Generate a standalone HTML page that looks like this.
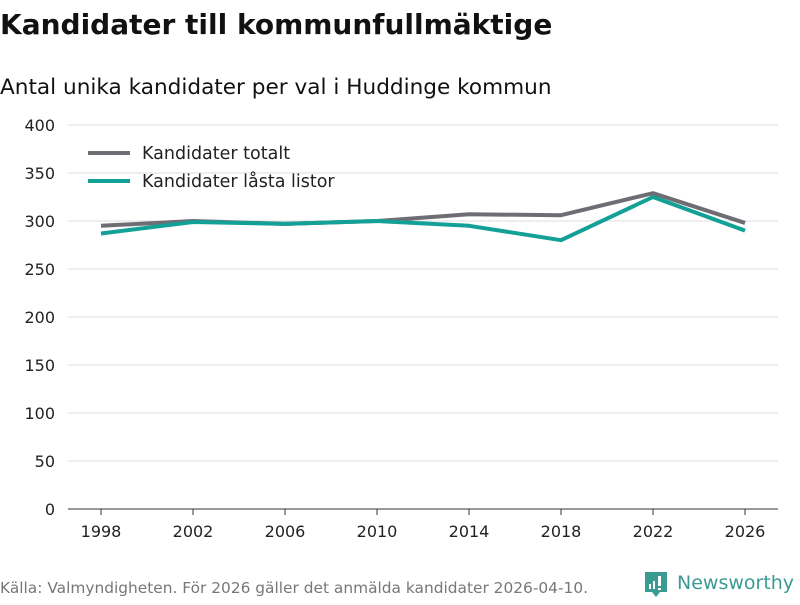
<!DOCTYPE html>
<html><head><meta charset="utf-8"><style>
body{margin:0;background:#fff;font-family:"Liberation Sans","DejaVu Sans",sans-serif;}
svg text{font-family:"DejaVu Sans","Liberation Sans",sans-serif;}
</style></head><body>
<svg width="800" height="600" xmlns="http://www.w3.org/2000/svg">
<text x="0" y="34" font-size="28" font-weight="bold" fill="#111">Kandidater till kommunfullmäktige</text>
<text x="0" y="94" font-size="21.6" fill="#111">Antal unika kandidater per val i Huddinge kommun</text>
<g id="grid"></g><g id="xaxis"></g><g id="lines"></g>
<g>
<line x1="88" y1="153" x2="130" y2="153" stroke="#6e6d73" stroke-width="4"/>
<text x="142" y="159" font-size="17.5" fill="#222">Kandidater totalt</text>
<line x1="88" y1="181" x2="130" y2="181" stroke="#13a097" stroke-width="4"/>
<text x="142" y="187" font-size="17.5" fill="#222">Kandidater låsta listor</text>
</g>
<text x="0" y="593" font-size="15.4" fill="#777">Källa: Valmyndigheten. För 2026 gäller det anmälda kandidater 2026-04-10.</text>
<g>
<path d="M645 572h22v20h-7l-4 5-4-5h-7z" fill="#3a9b92"/>
<rect x="649" y="584" width="2" height="5" fill="#fff"/><rect x="653" y="581" width="2" height="8" fill="#fff"/><rect x="658" y="576" width="3" height="10" fill="#fff"/><rect x="658" y="588" width="3" height="2" fill="#fff"/>
<text x="677" y="589" font-size="19" fill="#3a9b92">Newsworthy</text>
</g>
</svg>
<script>
const years=[1998,2002,2006,2010,2014,2018,2022,2026];
const totalt=[295,300,297,300,307,306,329,298];
const lasta=[287,299,297,300,295,280,325,290];
const yTicks=[0,50,100,150,200,250,300,350,400];
const NS="http://www.w3.org/2000/svg";
const xs=y=>101+(y-1998)*(644/28);
const ys=v=>509-v*0.96;
function mk(tag,attrs,parent){const e=document.createElementNS(NS,tag);for(const k in attrs)e.setAttribute(k,attrs[k]);parent.appendChild(e);return e;}
const grid=document.getElementById('grid');
yTicks.forEach(t=>{
 if(t>0){const l=mk('line',{x1:68,x2:778,y1:ys(t),y2:ys(t),stroke:'#dcdcdc','stroke-width':1},grid);
 
 }
 const tx=mk('text',{x:55,y:ys(t)+6,'font-size':16,fill:'#222','text-anchor':'end'},grid);tx.textContent=t;
 
 
});
const xa=document.getElementById('xaxis');
const ax=mk('line',{x1:68,x2:778,y1:509,y2:509,stroke:'#333','stroke-width':1},xa);


years.forEach(y=>{
 const tk=mk('line',{x1:xs(y),x2:xs(y),y1:509,y2:515,stroke:'#333'},xa);
 
 
 const tx=mk('text',{x:xs(y),y:537,'font-size':16,fill:'#222','text-anchor':'middle'},xa);tx.textContent=y;
 
 
});
const lg=document.getElementById('lines');
[[totalt,'#6e6d73','line-totalt'],[lasta,'#13a097','line-lasta']].forEach(([d,c,n])=>{
 const p=mk('polyline',{points:d.map((v,i)=>xs(years[i])+','+ys(v)).join(' '),fill:'none',stroke:c,'stroke-width':4,'stroke-linejoin':'round'},lg);
 
 
});
</script>
</body></html>
